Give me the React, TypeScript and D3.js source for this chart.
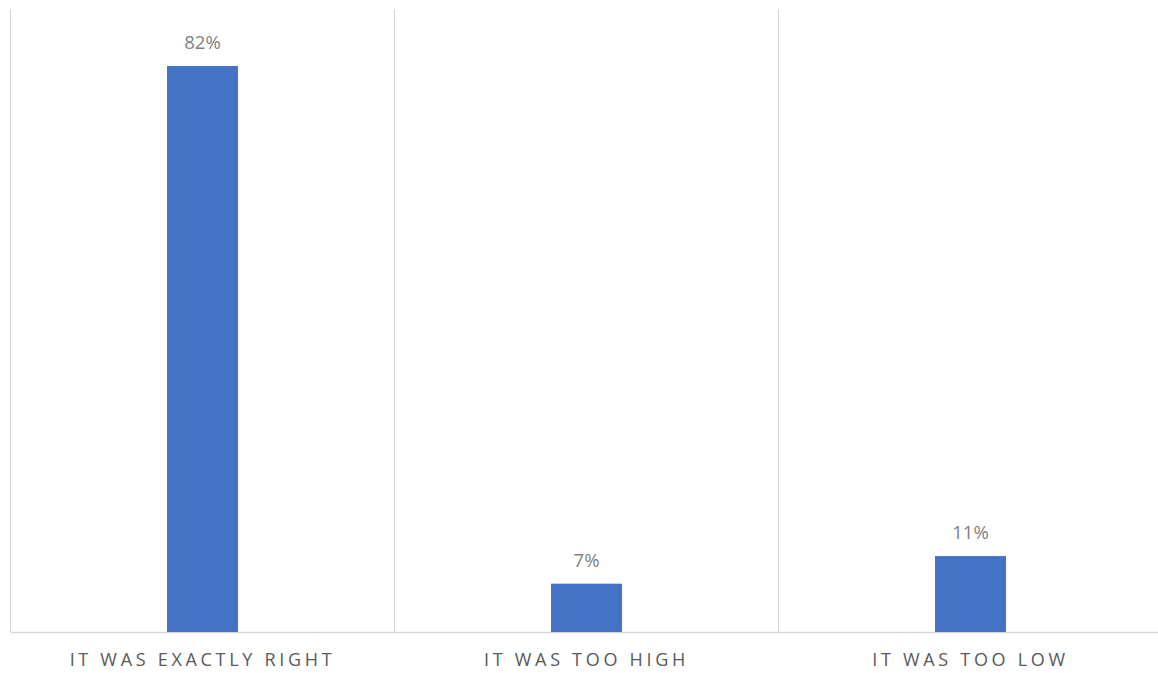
import React from "react";
import * as d3 from "d3";

const categories = ["IT WAS EXACTLY RIGHT", "IT WAS TOO HIGH", "IT WAS TOO LOW"];
const values = [82, 7, 11];
const valueLabels = ["82%", "7%", "11%"];

const W = 1158;
const H = 673;

export default function App() {
  const left = 10.5;
  const right = 1162.5;
  const top = 9;
  const bottom = 632;
  const x = d3.scaleBand<string>().domain(categories).range([left, right]).padding(0);
  const y = d3.scaleLinear().domain([0, 90]).range([bottom, 10.8]);
  const bw = x.bandwidth() * 0.185;
  const font = "'Open Sans', sans-serif";
  const ls = 3.7;
  return (
    <svg width={W} height={H} style={{ position: "absolute", left: 0, top: 0 }}>
      <rect width={W} height={H} fill="#fff" />
      {categories.map((c) => (
        <line key={"g" + c} x1={x(c)!} x2={x(c)!} y1={top} y2={bottom} stroke="#d9d9d9" strokeWidth={1.3} />
      ))}
      <line x1={left} x2={W} y1={bottom + 0.5} y2={bottom + 0.5} stroke="#d9d9d9" strokeWidth={1.5} />
      {categories.map((c, i) => {
        const cx = x(c)! + x.bandwidth() / 2;
        return (
          <g key={c}>
            <rect x={cx - bw / 2} y={y(values[i])} width={bw} height={bottom - y(values[i])} fill="#4472c4" />
            <text x={cx} y={y(values[i]) - 17} textAnchor="middle" fontFamily={font} fontSize={18.5} fill="#7f7f7f">
              {valueLabels[i]}
            </text>
            <text x={cx} y={666} textAnchor="middle" fontFamily={font} fontSize={18} fill="#595959" letterSpacing={ls}>
              {c}
            </text>
          </g>
        );
      })}
    </svg>
  );
}
